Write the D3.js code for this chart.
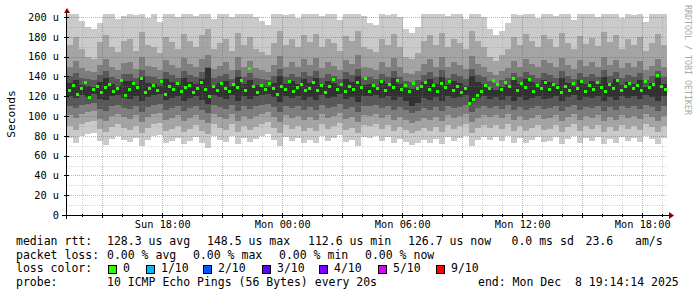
<!DOCTYPE html>
<html>
<head>
<meta charset="utf-8">
<script src="https://cdn.jsdelivr.net/npm/d3@7"></script>
<style>
  body { margin: 0; background: #fff; }
  text { font-family: "DejaVu Sans Mono", monospace; }
</style>
</head>
<body>
<svg id="chart" width="697" height="297"></svg>
<script>
// sorted ping values per 18-minute column (microseconds), p1 = fastest, p10 = slowest
const p10 = [212,205,196,190,188,194,210,203,198,201, 208,202,212,199,206,195,210,204,200,207,
             212,201,206,209,198,204,207,200,210,203, 209,200,196,192,204,211,202,207,199,210,
             204,210,201,208,203,197,209,204,212,201, 194,192,207,202,210,200,188,184,190,204,
             209,203,210,201,207,204,198,211,205,200, 188,182,186,194,208,202,210,204,199,209,
             207,201,210,204,197,209,203,208,200,211, 204,210,199,207,202,209,195,204,210,203];
const p9  = [172,180,168,160,158,175,182,170,165,176, 178,166,185,172,170,164,180,175,168,183,
             176,170,182,188,168,174,178,166,184,172, 180,168,165,162,174,186,172,178,170,182,
             175,183,170,178,174,166,181,176,186,170, 168,165,178,172,183,170,160,158,164,176,
             182,172,184,170,178,174,168,186,176,170, 160,156,162,168,180,172,183,176,170,182,
             178,170,184,174,168,181,173,179,171,185, 175,182,168,178,172,180,166,174,183,172];
const p8  = [150,156,148,145,144,152,158,149,146,154, 155,147,160,151,149,146,157,152,148,159,
             153,149,158,162,147,151,155,146,160,150, 156,148,146,144,152,161,150,155,149,158,
             152,159,148,155,151,146,157,153,162,149, 148,146,155,150,159,149,143,142,145,153,
             158,150,160,149,155,152,147,161,153,149, 144,141,145,148,156,150,158,153,149,157,
             154,149,159,152,147,157,151,155,150,160, 152,157,148,154,150,156,146,151,158,150];
const p7  = [140,143,138,137,136,141,145,139,137,142, 142,138,146,140,139,137,144,141,138,145,
             141,139,144,150,138,140,142,137,146,139, 143,138,137,136,140,147,139,142,139,144,
             140,145,138,142,140,137,144,141,147,138, 139,137,142,139,145,139,135,134,136,141,
             144,139,146,138,142,140,137,147,141,139, 135,133,136,138,143,139,144,141,138,143,
             141,138,145,140,137,143,139,142,139,146, 140,144,138,141,139,143,136,140,145,139];
const p6  = [133,136,131,130,129,134,138,132,130,135, 135,131,139,133,132,130,137,134,131,138,
             134,132,137,148,131,133,135,130,139,132, 136,131,130,129,133,140,132,135,132,137,
             133,138,131,135,133,130,137,134,140,131, 132,130,135,132,138,132,128,127,129,134,
             137,132,139,131,135,133,130,140,134,132, 128,126,129,131,136,132,137,134,131,136,
             134,131,138,133,130,136,132,135,132,139, 133,137,131,134,132,136,129,133,138,132];
const p5  = [120,118,121,119,122,117,116,120,121,118, 117,120,115,119,121,122,116,118,120,115,
             118,120,116,112,121,119,117,121,115,120, 117,120,121,122,119,114,120,118,120,116,
             119,116,121,118,119,122,117,119,114,120, 120,121,118,120,116,119,115,110,113,118,
             116,119,115,120,118,119,121,114,118,120, 117,119,116,120,115,119,116,118,120,117,
             118,120,115,119,121,116,119,118,120,115, 119,116,120,118,120,117,121,119,115,120];
const p4  = [110,108,111,112,113,107,105,110,111,108, 107,110,104,109,111,112,106,108,110,105,
             108,110,106,103,111,109,107,111,105,110, 107,110,111,112,109,104,110,108,110,106,
             109,106,111,108,109,112,107,109,104,110, 110,111,108,110,106,109,106,103,105,108,
             106,109,105,110,108,109,111,104,108,110, 108,110,107,111,106,109,106,108,110,107,
             108,110,105,109,111,106,109,108,110,105, 109,106,110,108,110,107,111,109,105,110];
const p3  = [101,98,102,104,105,97,95,100,102,99, 97,101,94,99,102,103,96,98,101,95,
             98,101,96,93,102,99,97,102,95,100, 97,100,102,104,99,94,101,98,100,96,
             99,96,102,98,100,103,97,99,94,101, 100,102,98,101,96,99,96,93,95,98,
             96,99,95,101,98,100,102,94,98,101, 99,101,98,102,96,100,96,98,101,97,
             98,101,95,99,102,96,100,98,101,95, 99,96,101,98,100,97,102,99,95,100];
const p2  = [90,86,92,94,95,87,84,89,92,88, 86,90,83,88,92,93,85,87,90,84,
             87,91,85,82,92,88,86,92,84,90, 86,89,92,94,88,83,91,87,90,85,
             88,85,92,87,90,93,86,88,83,91, 90,92,87,91,85,89,86,83,85,88,
             85,89,84,91,87,90,92,83,88,91, 88,91,87,92,85,90,85,88,91,86,
             87,91,84,89,92,85,90,87,91,84, 89,85,91,87,90,86,92,89,84,90];
const p1  = [78,73,80,82,83,75,71,77,80,76, 74,78,70,76,80,81,73,75,78,72,
             75,79,73,68,80,76,74,80,72,78, 74,77,80,82,76,70,79,75,78,73,
             76,73,80,75,78,81,74,76,70,79, 78,80,75,79,73,77,74,71,73,76,
             73,77,72,79,75,78,80,70,76,79, 76,79,75,80,73,78,73,76,79,74,
             75,79,72,77,80,73,78,75,79,72, 77,73,79,75,78,74,80,77,72,78];

// median rtt per 12-minute step (microseconds), all with 0 loss
const median = [126,131,122,128,134,119,127,130,124,129, 132,125,128,136,121,127,133,129,138,124,
                128,131,126,135,122,130,127,133,125,129, 131,124,128,134,127,120,130,126,133,128,
                125,132,129,136,126,148,130,124,131,127, 133,128,122,130,127,135,125,129,132,126,
                128,134,126,131,124,130,137,127,132,125, 130,127,134,129,138,125,131,128,135,126,
                132,129,136,127,131,125,133,128,130,134, 127,131,125,133,129,135,126,130,124,128,
                113,117,121,125,131,128,136,132,127,134, 130,138,126,133,129,137,125,131,128,134,
                127,132,129,124,130,126,133,128,135,125, 131,127,134,129,125,132,128,136,126,130,
                133,128,131,126,135,129,132,141,130,127];

const yTickValues = [0, 20, 40, 60, 80, 100, 120, 140, 160, 180, 200];
const xTickTimes = ["2025-12-07T18:00", "2025-12-08T00:00", "2025-12-08T06:00", "2025-12-08T12:00", "2025-12-08T18:00"];
const xTickLabels = ["Sun 18:00", "Mon 00:00", "Mon 06:00", "Mon 12:00", "Mon 18:00"];

const smokeColors = ["#cacaca", "#a4a4a4", "#7e7e7e", "#585858", "#323232"];
const lossLabels = ["0", "1/10", "2/10", "3/10", "4/10", "5/10", "9/10"];
const lossColors = ["#26ff00", "#00b8ff", "#0059ff", "#5e00ff", "#7e00ff", "#dd00ff", "#ff0000"];

const start = new Date(2025, 11, 7, 13, 14, 14);
const end = new Date(2025, 11, 8, 19, 14, 14);

const plotL = 67, plotR = 667, plotT = 17, plotB = 215;

const x = d3.scaleTime([start, end], [plotL, plotR]);
const y = d3.scaleLinear([0, 200], [plotB, plotT]);

const svg = d3.select("#chart");

svg.append("defs").append("clipPath").attr("id", "plot")
  .append("rect").attr("x", plotL).attr("y", 14).attr("width", plotR - plotL).attr("height", plotB - 14);

const colStep = (end - start) / p1.length;
const colTimes = p1.map((d, i) => new Date(+start + i * colStep));
const pings = [p1, p2, p3, p4, p5, p6, p7, p8, p9, p10];

// smoke bands: band k goes from ping k to ping (11-k)
const smoke = svg.append("g").attr("clip-path", "url(#plot)").attr("shape-rendering", "crispEdges");
smokeColors.forEach((c, k) => {
  const lo = pings[k], hi = pings[9 - k];
  smoke.append("g").selectAll("rect")
    .data(colTimes)
    .enter()
    .append("rect")
    .attr("x", d => Math.round(x(d)))
    .attr("width", d => Math.round(x(new Date(+d + colStep))) - Math.round(x(d)))
    .attr("y", (d, i) => y(hi[i]))
    .attr("height", (d, i) => y(lo[i]) - y(hi[i]))
    .attr("fill", c);
});

// median marks
const medStep = (end - start) / median.length;
smoke.append("g").selectAll("rect")
  .data(median)
  .enter()
  .append("rect")
  .attr("x", (d, i) => Math.round(x(new Date(+start + i * medStep))) + 1)
  .attr("width", 3)
  .attr("y", d => Math.round(y(d)) - 1)
  .attr("height", 3)
  .attr("fill", lossColors[0]);

// grid, drawn over the smoke
const grid = svg.append("g").attr("shape-rendering", "crispEdges").attr("stroke-dasharray", "1,1");
const minorY = d3.range(10, 201, 10).filter(v => v % 20 !== 0);
grid.selectAll(".hmin").data(minorY).enter().append("line")
  .attr("x1", plotL).attr("x2", plotR)
  .attr("y1", d => Math.round(y(d)) + 0.5).attr("y2", d => Math.round(y(d)) + 0.5)
  .attr("stroke", "#8c8c8c").attr("stroke-opacity", 0.35);
const hourTicks = x.ticks(d3.timeHour.every(1)).filter(d => d.getHours() % 3 !== 0);
grid.selectAll(".vmin").data(hourTicks).enter().append("line")
  .attr("x1", d => Math.round(x(d)) + 0.5).attr("x2", d => Math.round(x(d)) + 0.5)
  .attr("y1", plotT).attr("y2", plotB)
  .attr("stroke", "#8c8c8c").attr("stroke-opacity", 0.35);
grid.selectAll(".hmaj").data(yTickValues.filter(v => v > 0)).enter().append("line")
  .attr("x1", plotL).attr("x2", plotR)
  .attr("y1", d => Math.round(y(d)) + 0.5).attr("y2", d => Math.round(y(d)) + 0.5)
  .attr("stroke", "#c83232").attr("stroke-opacity", 0.45);
grid.selectAll(".vmaj").data(x.ticks(d3.timeHour.every(3))).enter().append("line")
  .attr("x1", d => Math.round(x(d)) + 0.5).attr("x2", d => Math.round(x(d)) + 0.5)
  .attr("y1", plotT).attr("y2", plotB)
  .attr("stroke", "#c83232").attr("stroke-opacity", 0.45);

// axes
const yAxis = d3.axisLeft(y).tickValues(yTickValues).tickSize(0).tickPadding(8)
  .tickFormat(d => d === 0 ? "0" : d + " u");
svg.append("g").attr("transform", `translate(${plotL},0)`).call(yAxis)
  .call(g => g.select(".domain").remove())
  .selectAll("text").style("font-size", "10.3px").style("fill", "#000")
  .style("font-family", "DejaVu Sans Mono");

const tickDates = xTickTimes.map(s => new Date(s));
const xAxis = d3.axisBottom(x).tickValues(tickDates).tickSize(0).tickPadding(6)
  .tickFormat((d, i) => xTickLabels[i]);
svg.append("g").attr("transform", `translate(0,${plotB})`).call(xAxis)
  .call(g => g.select(".domain").remove())
  .selectAll("text").style("font-size", "10.3px").style("fill", "#000")
  .style("font-family", "DejaVu Sans Mono");

const axes = svg.append("g").attr("shape-rendering", "crispEdges").attr("stroke", "#000");
axes.append("line").attr("x1", plotL - 5).attr("x2", plotR + 3).attr("y1", plotB + 0.5).attr("y2", plotB + 0.5);
axes.append("line").attr("x1", plotL - 0.5).attr("x2", plotL - 0.5).attr("y1", plotB + 4).attr("y2", 12);
// small ticks on the axes
axes.selectAll(".xt").data(x.ticks(d3.timeHour.every(1))).enter().append("line")
  .attr("x1", d => Math.round(x(d)) + 0.5).attr("x2", d => Math.round(x(d)) + 0.5)
  .attr("y1", d => d.getHours() % 3 === 0 ? plotB - 2 : plotB - 1)
  .attr("y2", d => d.getHours() % 3 === 0 ? plotB + 3 : plotB + 2);
axes.selectAll(".yt").data(yTickValues.filter(v => v > 0)).enter().append("line")
  .attr("x1", plotL - 3).attr("x2", plotL + 2)
  .attr("y1", d => Math.round(y(d)) + 0.5).attr("y2", d => Math.round(y(d)) + 0.5);

svg.append("path").attr("d", `M${plotL - 3},13 L${plotL},8 L${plotL + 3},13 Z`).attr("fill", "#8b0000");
svg.append("path").attr("d", `M${plotR + 2},212 L${plotR + 7},215.5 L${plotR + 2},219 Z`).attr("fill", "#8b0000");

// axis title and watermark
svg.append("text")
  .attr("transform", "translate(15,114) rotate(-90)")
  .attr("text-anchor", "middle")
  .style("font-size", "11.3px")
  .text("Seconds");
svg.append("text")
  .attr("transform", "translate(685,5) rotate(90)")
  .style("font-size", "8.3px")
  .style("fill", "#a8a8a8")
  .text("RRDTOOL / TOBI OETIKER");

// legend
const legend = svg.append("g").style("font-size", "11.5px").style("fill", "#000");
const legendLine = (yy, items) => items.forEach(([xx, t]) =>
  legend.append("text").attr("x", xx).attr("y", yy).attr("xml:space", "preserve").text(t));

legendLine(245, [[16, "median rtt:"], [107, "128.3 us avg"], [207, "148.5 us max"], [308, "112.6 us min"],
           [408, "126.7 us now"], [511.5, "0.0 ms sd"], [585.5, "23.6"], [635, "am/s"]]);
legendLine(258.7, [[16, "packet loss:"], [107, "0.00 % avg"], [193, "0.00 % max"], [279, "0.00 % min"],
             [365, "0.00 % now"]]);
legendLine(272.3, [[16, "loss color:"]]);
legendLine(286, [[16, "probe:"], [107, "10 ICMP Echo Pings (56 Bytes) every 20s"], [478, "end: Mon Dec  8 19:14:14 2025"]]);

const boxX = [108, 146, 203, 262, 319, 378, 436];
lossLabels.forEach((l, i) => {
  legend.append("rect").attr("x", boxX[i] + 0.5).attr("y", 265.5).attr("width", 8).attr("height", 8)
    .attr("fill", lossColors[i]).attr("stroke", "#000").attr("stroke-width", 1);
  legend.append("text").attr("x", boxX[i] + 15).attr("y", 272.3).text(l);
});
</script>
</body>
</html>
